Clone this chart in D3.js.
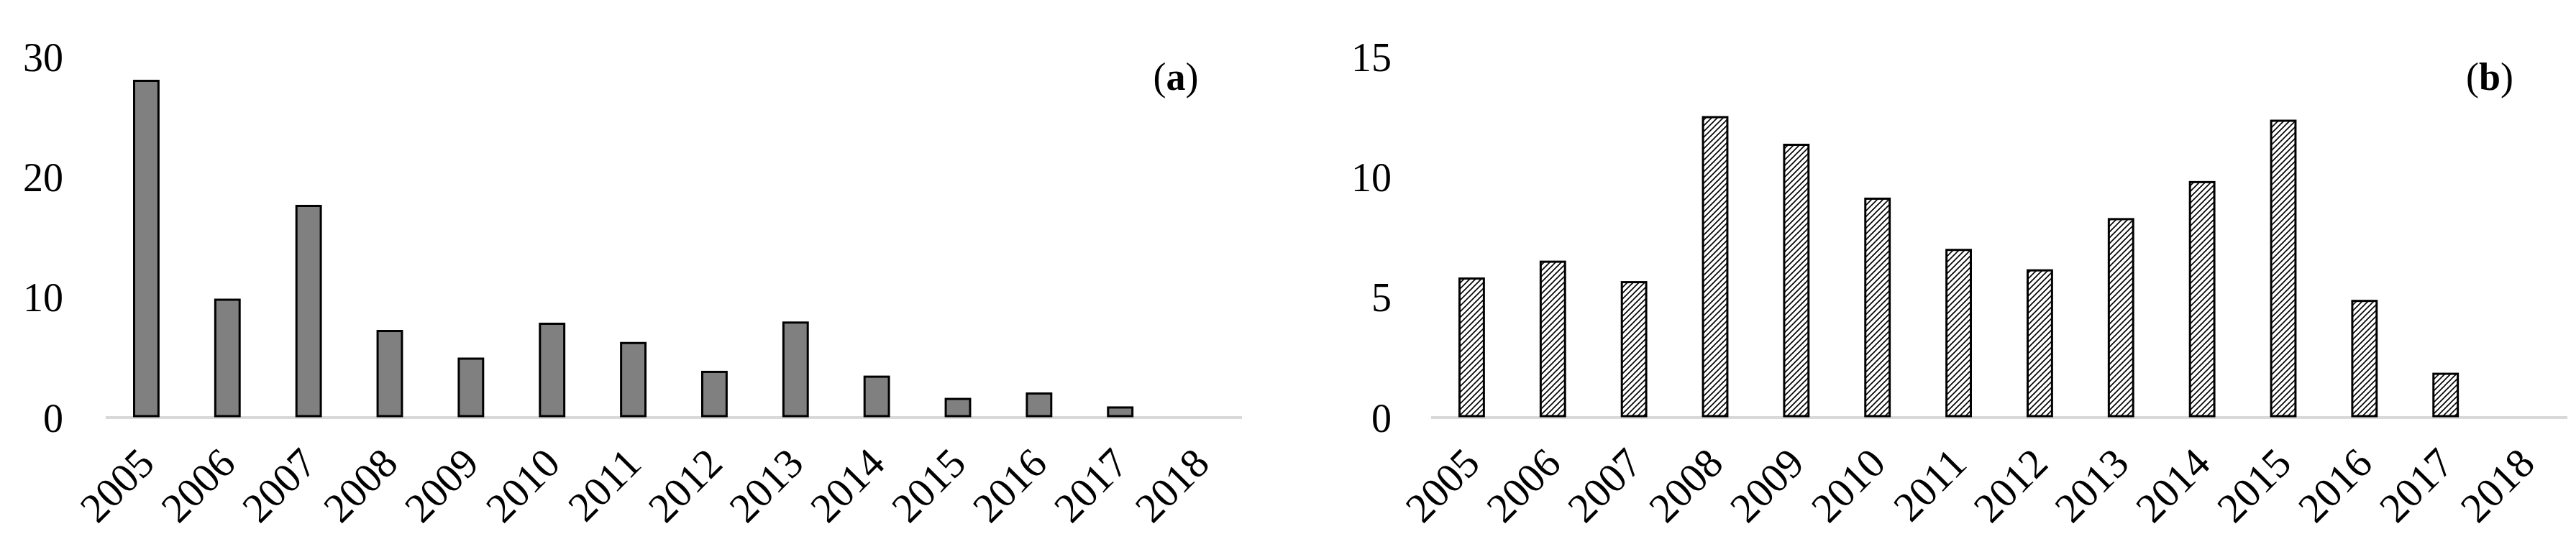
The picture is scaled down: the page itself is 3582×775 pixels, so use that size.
<!DOCTYPE html><html><head><meta charset="utf-8">
<script src="https://cdn.jsdelivr.net/npm/d3@7/dist/d3.min.js"></script>
<style>body{margin:0;background:#fff}</style></head><body>
<svg id="c" width="3582" height="775"></svg>
<script>
const years=["2005","2006","2007","2008","2009","2010","2011","2012","2013","2014","2015","2016","2017","2018"];
const valuesA=[28,9.8,17.6,7.2,4.9,7.8,6.2,3.8,7.9,3.4,1.55,2.0,0.84,0];
const valuesB=[5.78,6.48,5.63,12.49,11.34,9.1,6.97,6.12,8.25,9.79,12.34,4.85,1.82,0];
const ticksA=[0,10,20,30], ticksB=[0,5,10,15];
const svg=d3.select("#c");
const defs=svg.append("defs");
const p=defs.append("pattern").attr("id","hatch").attr("patternUnits","userSpaceOnUse").attr("width",8).attr("height",8);
p.append("rect").attr("width",8).attr("height",8).attr("fill","#fff");
p.append("path").attr("d","M-2,10 L10,-2 M-2,2 L2,-2 M6,10 L10,6").attr("stroke","#000").attr("stroke-width",1.6);
const font="'Liberation Serif','Times New Roman',serif";
function panel(x0,x1,lblX,vals,ticks,max,fill,tag,tagX){
  const x=d3.scaleBand().domain(years).range([x0,x1]).paddingInner(0.7).paddingOuter(0.35);
  const y=d3.scaleLinear().domain([0,max]).range([581,79]);
  svg.append("line").attr("x1",x0).attr("x2",x1).attr("y1",y(0)).attr("y2",y(0)).attr("stroke","#d9d9d9").attr("stroke-width",4);
  svg.selectAll(null).data(ticks).enter().append("text").attr("x",lblX).attr("y",d=>y(d)).attr("dy","0.35em")
    .attr("text-anchor","end").attr("font-family",font).attr("font-size",56).text(d=>d);
  svg.selectAll(null).data(vals.map((v,i)=>({v,c:years[i]})).filter(d=>d.v>0)).enter().append("rect")
    .attr("x",d=>x(d.c)).attr("width",x.bandwidth()).attr("y",d=>y(d.v)).attr("height",d=>y(0)-y(d.v)-2)
    .attr("fill",fill).attr("stroke","#000").attr("stroke-width",3);
  svg.selectAll(null).data(years).enter().append("text")
    .attr("transform",d=>`translate(${x(d)+x.bandwidth()/2+14},${648}) rotate(-45)`)
    .attr("text-anchor","end").attr("font-family",font).attr("font-size",58).text(d=>d);
  const t=svg.append("text").attr("x",tagX).attr("y",125).attr("font-family",font).attr("font-size",54).attr("text-anchor","middle");
  t.append("tspan").text("(");t.append("tspan").attr("font-weight","bold").text(tag);t.append("tspan").text(")");
}
panel(147,1727,88,valuesA,ticksA,30,"#808080","a",1635);
panel(1990,3570,1935,valuesB,ticksB,15,"url(#hatch)","b",3462);
</script></body></html>
